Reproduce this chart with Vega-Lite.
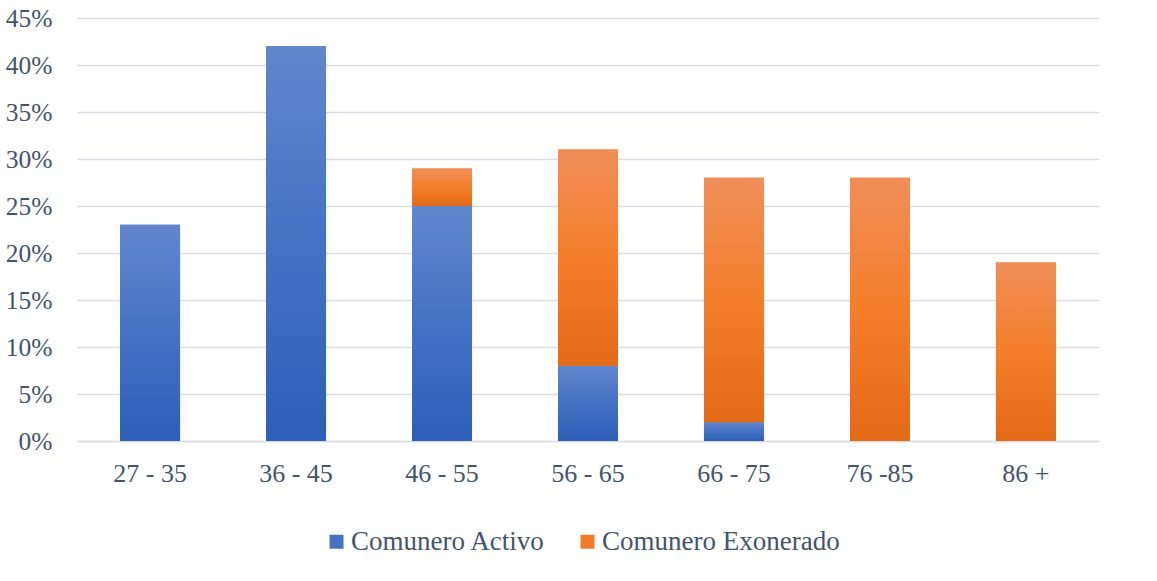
{
  "$schema": "https://vega.github.io/schema/vega-lite/v6.json",
  "width": 1022,
  "height": 423,
  "autosize": {"type": "none"},
  "padding": {"left": 77, "top": 18, "right": 58, "bottom": 140},
  "background": "white",
  "config": {
    "view": {"stroke": null},
    "font": "Liberation Serif"
  },
  "data": {
    "values": [
      {"edad": "27 - 35", "serie": "Comunero Activo", "valor": 23},
      {"edad": "36 - 45", "serie": "Comunero Activo", "valor": 42},
      {"edad": "46 - 55", "serie": "Comunero Activo", "valor": 25},
      {"edad": "46 - 55", "serie": "Comunero Exonerado", "valor": 4},
      {"edad": "56 - 65", "serie": "Comunero Activo", "valor": 8},
      {"edad": "56 - 65", "serie": "Comunero Exonerado", "valor": 23},
      {"edad": "66 - 75", "serie": "Comunero Activo", "valor": 2},
      {"edad": "66 - 75", "serie": "Comunero Exonerado", "valor": 26},
      {"edad": "76 -85", "serie": "Comunero Exonerado", "valor": 28},
      {"edad": "86 +", "serie": "Comunero Exonerado", "valor": 19}
    ]
  },
  "transform": [
    {"stack": "valor", "groupby": ["edad"], "sort": [{"field": "serie", "order": "ascending"}], "as": ["y0", "y1"]}
  ],
  "encoding": {
    "x": {
      "field": "edad", "type": "nominal", "sort": null,
      "scale": {"paddingInner": 0.589, "paddingOuter": 0.295},
      "axis": {
        "title": null, "labelAngle": 0, "labelFontSize": 26, "labelColor": "#44546A",
        "labelPadding": 19, "ticks": false, "domain": true, "domainColor": "#DADEE4", "domainWidth": 1.5,
        "labelFont": "Liberation Serif", "labelLimit": 0
      }
    },
    "y": {
      "field": "y1", "type": "quantitative",
      "scale": {"domain": [0, 45], "nice": false},
      "axis": {
        "title": null, "values": [0, 5, 10, 15, 20, 25, 30, 35, 40, 45],
        "labelExpr": "datum.value + '%'", "labelFontSize": 25.5, "labelColor": "#44546A",
        "labelPadding": 25, "ticks": false, "domain": false,
        "gridColor": "#DADEE4", "gridWidth": 1.5, "labelFont": "Liberation Serif"
      }
    },
    "y2": {"field": "y0"}
  },
  "layer": [
    {
      "mark": {"type": "bar"},
      "encoding": {
        "color": {
          "field": "serie", "type": "nominal",
          "scale": {"domain": ["Comunero Activo", "Comunero Exonerado"], "range": ["#4472C4", "#F07C28"]},
          "legend": {
            "title": null, "orient": "none", "direction": "horizontal",
            "legendX": 246, "legendY": 510,
            "symbolType": "square", "symbolSize": 196, "symbolStrokeWidth": 0,
            "labelFontSize": 27, "labelColor": "#44546A", "labelFont": "Liberation Serif",
            "columnPadding": 28, "labelOffset": 1, "labelLimit": 0
          }
        }
      }
    },
    {
      "transform": [{"filter": "datum.serie === 'Comunero Activo'"}],
      "mark": {
        "type": "bar",
        "color": {
          "gradient": "linear", "x1": 0, "y1": 0, "x2": 0, "y2": 1,
          "stops": [
            {"offset": 0, "color": "#6386CC"},
            {"offset": 0.5, "color": "#4472C4"},
            {"offset": 1, "color": "#2D5FB8"}
          ]
        }
      }
    },
    {
      "transform": [{"filter": "datum.serie === 'Comunero Exonerado'"}],
      "mark": {
        "type": "bar",
        "color": {
          "gradient": "linear", "x1": 0, "y1": 0, "x2": 0, "y2": 1,
          "stops": [
            {"offset": 0, "color": "#F08E59"},
            {"offset": 0.5, "color": "#F47E2A"},
            {"offset": 1, "color": "#E36A16"}
          ]
        }
      }
    }
  ]
}
